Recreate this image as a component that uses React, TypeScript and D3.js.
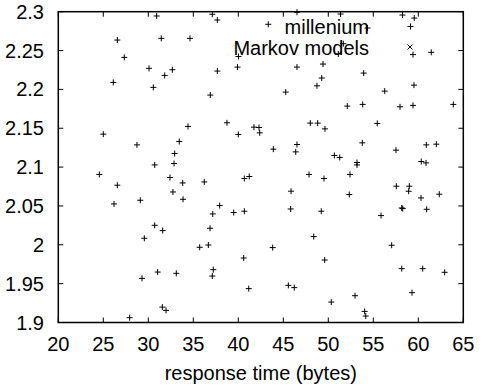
import React from "react";
import { scaleLinear } from "d3";

// millenium series: response time (x) and value (y)
const responseTime = [
  30.93, 37.11, 37.67, 26.56, 31.44, 34.63, 27.33, 40.02, 30.08, 32.67,
  31.82, 37.67, 39.91, 26.11, 30.56, 36.89, 38.74, 34.41, 25.0, 40.0,
  33.44, 28.74, 32.93, 30.71, 32.86, 46.52, 51.36, 58.24, 59.55, 43.33,
  54.36, 59.41, 61.44, 51.67, 51.11, 46.52, 49.41, 49.27, 48.74, 53.93,
  45.27, 56.27, 59.52, 52.11, 53.82, 57.97, 59.41, 63.89, 41.74, 42.3,
  42.38, 48.0, 48.82, 49.63, 55.44, 43.89, 46.52, 46.38, 50.67, 51.27,
  53.78, 57.52, 60.89, 62.0, 53.19, 53.19, 60.33, 60.86, 24.56, 26.56,
  32.41, 33.82, 32.74, 36.22, 40.67, 41.22, 26.19, 29.11, 33.86, 37.93,
  37.16, 39.49, 40.67, 30.71, 31.6, 36.86, 29.56, 35.71, 36.67, 40.6,
  29.3, 31.04, 33.11, 37.22, 37.11, 41.16, 31.56, 31.97, 27.93, 47.86,
  49.52, 52.41, 45.86, 52.33, 57.56, 59.0, 58.93, 60.3, 62.33, 45.82,
  49.22, 55.86, 58.16, 58.27, 60.93, 48.38, 43.82, 57.04, 49.6, 58.16,
  60.49, 62.93, 45.56, 46.22, 59.3, 52.97, 50.33, 54.04, 54.16,
];
const milleniumValue = [
  2.2945, 2.2967, 2.2893, 2.2635, 2.2657, 2.2657, 2.2412, 2.2423, 2.2271, 2.2253,
  2.218, 2.2236, 2.2287, 2.209, 2.2026, 2.1927, 2.157, 2.1523, 2.1424, 2.142,
  2.133, 2.1286, 2.1175, 2.1028, 2.1046, 2.2993, 2.297, 2.2957, 2.2918, 2.2838,
  2.279, 2.2448, 2.2477, 2.2588, 2.2455, 2.2287, 2.2326, 2.2146, 2.2046, 2.221,
  2.1965, 2.1978, 2.2055, 2.1785, 2.1807, 2.1776, 2.1794, 2.1807, 2.1514, 2.151,
  2.1441, 2.1566, 2.1566, 2.1492, 2.1562, 2.1231, 2.1291, 2.1196, 2.115, 2.1124,
  2.1312, 2.1218, 2.1286, 2.1295, 2.1059, 2.1028, 2.1072, 2.1054, 2.0905, 2.0767,
  2.0866, 2.0796, 2.068, 2.0809, 2.0853, 2.0879, 2.0526, 2.0573, 2.0586, 2.0505,
  2.0397, 2.0415, 2.0432, 2.0251, 2.0183, 2.0213, 2.0084, 1.9968, 1.9997, 1.983,
  1.9568, 1.9649, 1.9633, 1.968, 1.9598, 1.9436, 1.9198, 1.9156, 1.9062, 2.0905,
  2.0853, 2.0905, 2.069, 2.0647, 2.0754, 2.0754, 2.0689, 2.0603, 2.0651, 2.0461,
  2.0432, 2.0376, 2.0474, 2.0466, 2.0457, 2.0106, 1.9964, 1.9994, 1.9804, 1.9693,
  1.9693, 1.9646, 1.9478, 1.9449, 1.9384, 1.9345, 1.9263, 1.9143, 1.9083,
];

const seriesNames = ["millenium", "Markov models"];
const xDomain = [20, 65];
const yDomain = [1.9, 2.3];
const xLabel = "response time (bytes)";

const W = 485;
const H = 391;
const left = 58.3, right = 463.3, top = 11.7, bottom = 322.5;
const font = "'Liberation Sans', Arial, sans-serif";

function Plus({ x, y, s = 3 }) {
  return <path d={`M${x - s},${y}H${x + s}M${x},${y - s}V${y + s}`} stroke="#000" strokeWidth={1} fill="none" />;
}
function Cross({ x, y, s = 2.5 }) {
  return <path d={`M${x - s},${y - s}L${x + s},${y + s}M${x - s},${y + s}L${x + s},${y - s}`} stroke="#000" strokeWidth={1} fill="none" />;
}

export default function App() {
  const x = scaleLinear().domain(xDomain).range([left, right]);
  const y = scaleLinear().domain(yDomain).range([bottom, top]);
  const xt = x.ticks(10);
  const yt = y.ticks(8);
  const tl = 5;

  return (
    <svg width={W} height={H} style={{ position: "absolute", left: 0, top: 0, background: "#fff" }} fontFamily={font}>
      <rect width={W} height={H} fill="#fff" />
      {xt.map(t => (
        <g key={"x" + t}>
          <line x1={x(t)} x2={x(t)} y1={bottom} y2={bottom - tl} stroke="#000" />
          <line x1={x(t)} x2={x(t)} y1={top} y2={top + tl} stroke="#000" />
          <text x={x(t)} y={351} textAnchor="middle" fontSize={20}>{t}</text>
        </g>
      ))}
      {yt.map(t => (
        <g key={"y" + t}>
          <line x1={left} x2={left + tl} y1={y(t)} y2={y(t)} stroke="#000" />
          <line x1={right} x2={right - tl} y1={y(t)} y2={y(t)} stroke="#000" />
          <text x={44} y={y(t) + 7} textAnchor="end" fontSize={20}>{String(+t.toFixed(2))}</text>
        </g>
      ))}
      <text x={(left + right) / 2} y={380} textAnchor="middle" fontSize={20}>{xLabel}</text>

      {/* key */}
      <text x={369} y={34} textAnchor="end" fontSize={20}>{seriesNames[0]}</text>
      <Plus x={410.5} y={26.5} />
      <text x={369} y={54.5} textAnchor="end" fontSize={20}>{seriesNames[1]}</text>
      <Cross x={410} y={47} />

      {responseTime.map((d, i) => (
        <Plus key={i} x={x(d)} y={y(milleniumValue[i])} />
      ))}

      <rect x={left} y={top} width={right - left} height={bottom - top} fill="none" stroke="#000" strokeWidth={1.5} />
    </svg>
  );
}
